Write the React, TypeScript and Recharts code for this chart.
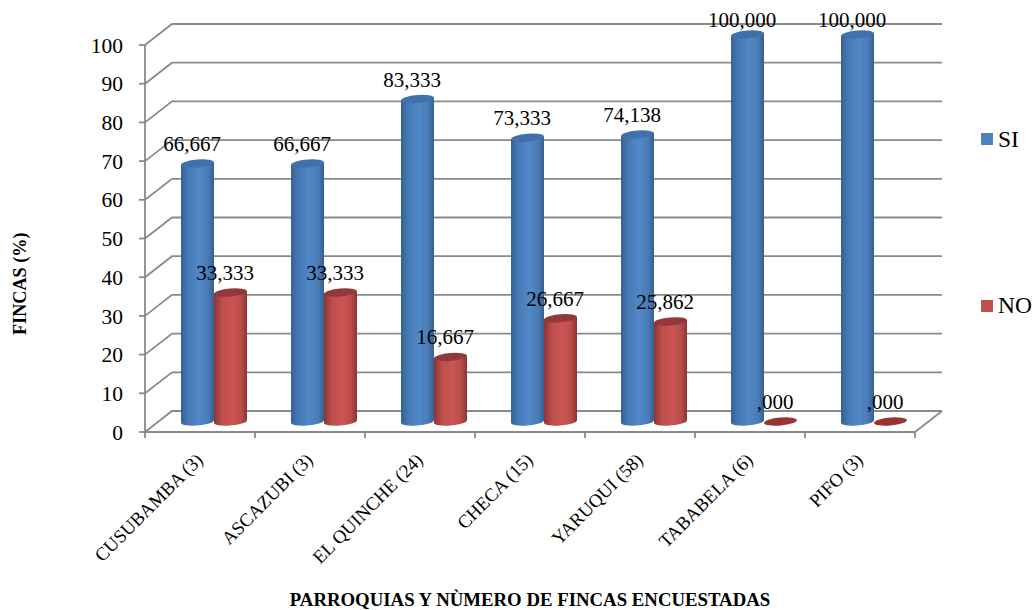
import React from "react";
import { BarChart, Bar, XAxis, YAxis, CartesianGrid, LabelList, Legend } from "recharts";

const parishes = [
  "CUSUBAMBA (3)",
  "ASCAZUBI (3)",
  "EL QUINCHE (24)",
  "CHECA (15)",
  "YARUQUI (58)",
  "TABABELA (6)",
  "PIFO (3)",
];
const siValues = [66.667, 66.667, 83.333, 73.333, 74.138, 100, 100];
const noValues = [33.333, 33.333, 16.667, 26.667, 25.862, 0, 0];
const percentTicks = [0, 10, 20, 30, 40, 50, 60, 70, 80, 90, 100];

const rows = parishes.map((parish, i) => ({ parish, SI: siValues[i], NO: noValues[i] }));

const FONT = '"Liberation Serif", "Times New Roman", serif';
const AXIS_GREY = "#8a8a8a";
const LEFT = 145;
const RIGHT = 118;
const TOP = 45;
const BOTTOM = 178;
const BAND = (1033 - LEFT - RIGHT) / parishes.length;

// Depth of the 3D box, and where the bars stand inside it.
const WALL_DX = 27;
const WALL_DY = -21;
const BAR_DX = 13.5;
const BAR_DY = -10.5;

const formatValue = (v: number) => {
  const s = v.toFixed(3).replace(".", ",");
  return s.startsWith("0,") ? s.slice(1) : s;
};

const Cylinder = (props: any) => {
  const { x, y, width, height, bodyFill, capFill, flatFill } = props;
  const left = x + BAR_DX;
  const right = left + width;
  const top = y + BAR_DY;
  const bottom = top + height;
  const cx = left + width / 2;
  const rx = width / 2;
  const ry = 4;
  const tilt = -5;
  if (height < 0.5) {
    return (
      <ellipse cx={cx} cy={top} rx={rx} ry={ry} fill={flatFill} transform={`rotate(${tilt} ${cx} ${top})`} />
    );
  }
  return (
    <g>
      <path
        d={`M${left},${top + 1.3} L${left},${bottom + 1.3} A${rx},${ry} ${tilt} 0 0 ${right},${bottom - 1.3} L${right},${top - 1.3} Z`}
        fill={bodyFill}
      />
      <ellipse cx={cx} cy={top} rx={rx} ry={ry} fill={capFill} transform={`rotate(${tilt} ${cx} ${top})`} />
    </g>
  );
};

const ValueLabel = (props: any) => {
  const { x, y, width, value } = props;
  const cy = Math.max(y + BAR_DY - 19.5, 20);
  return (
    <text
      x={x + BAR_DX + width / 2 - 5.5}
      y={cy}
      textAnchor="middle"
      dominantBaseline="central"
      fontFamily={FONT}
      fontSize={21}
      fill="#000"
    >
      {formatValue(Number(value))}
    </text>
  );
};

// Each gridline runs up the side wall and then along the back wall.
const BoxGridLine = (props: any) => {
  const { x1, x2, y1, index } = props;
  const backY = y1 + WALL_DY;
  const isFloor = Math.abs(y1 - (610 - BOTTOM)) < 0.5;
  return (
    <g key={`wall-${index}`} fill="none" stroke={AXIS_GREY} strokeWidth={1.8}>
      <path d={`M${x1},${y1} L${x1 + WALL_DX},${backY} L${x2 + WALL_DX},${backY}`} />
      {isFloor && <path d={`M${x2},${y1} L${x2 + WALL_DX},${backY}`} />}
    </g>
  );
};

const ParishTick = (props: any) => {
  const { x, y, payload, index } = props;
  const edge = y - 8;
  const endX = x + 4;
  const endY = y + 21;
  return (
    <g>
      <line x1={x + BAND / 2} x2={x + BAND / 2} y1={edge} y2={edge + 6} stroke={AXIS_GREY} strokeWidth={1.8} />
      {index === 0 && (
        <line x1={x - BAND / 2} x2={x - BAND / 2} y1={edge} y2={edge + 6} stroke={AXIS_GREY} strokeWidth={1.8} />
      )}
      <text
        x={endX}
        y={endY}
        textAnchor="end"
        fontFamily={FONT}
        fontSize={18.7}
        fill="#000"
        transform={`rotate(-45 ${endX} ${endY})`}
      >
        {payload.value}
      </text>
    </g>
  );
};

const legendRows = [139, 305.5];

const SeriesLegend = ({ payload }: any) => (
  <div style={{ position: "relative", width: 0, height: 0 }}>
    {(payload || []).map((entry: any, i: number) => (
      <div
        key={entry.value}
        style={{
          position: "absolute",
          left: 981,
          top: legendRows[i] - 12,
          width: 52,
          height: 24,
          display: "flex",
          alignItems: "center",
          fontFamily: FONT,
          fontSize: 23.5,
          color: "#000",
          whiteSpace: "nowrap",
        }}
      >
        <svg width={12} height={12} style={{ marginRight: 5, flex: "none" }}>
          <rect width={12} height={12} fill={entry.color} />
        </svg>
        {entry.value}
      </div>
    ))}
  </div>
);

export default function App() {
  return (
    <div style={{ position: "absolute", left: 0, top: 0, width: 1033, height: 610, background: "#fff" }}>
      <BarChart
        width={1033}
        height={610}
        data={rows}
        margin={{ top: TOP, right: RIGHT, bottom: 0, left: 0 }}
        barCategoryGap={22.5}
        barGap={0}
      >
        <defs>
          <linearGradient id="siBody" x1="0" y1="0" x2="1" y2="0">
            <stop offset="0" stopColor="#356296" />
            <stop offset="0.22" stopColor="#4679b4" />
            <stop offset="0.55" stopColor="#5188c8" />
            <stop offset="0.82" stopColor="#4a7cb6" />
            <stop offset="1" stopColor="#355f90" />
          </linearGradient>
          <linearGradient id="noBody" x1="0" y1="0" x2="1" y2="0">
            <stop offset="0" stopColor="#8c3533" />
            <stop offset="0.25" stopColor="#bd4f4c" />
            <stop offset="0.55" stopColor="#cb5552" />
            <stop offset="0.82" stopColor="#b94d4a" />
            <stop offset="1" stopColor="#8a3432" />
          </linearGradient>
        </defs>
        <CartesianGrid vertical={false} horizontal={BoxGridLine} syncWithTicks />
        <XAxis
          dataKey="parish"
          height={BOTTOM}
          interval={0}
          tick={ParishTick}
          tickLine={false}
          axisLine={{ stroke: AXIS_GREY, strokeWidth: 1.8 }}
          label={{
            value: "PARROQUIAS Y NÙMERO DE FINCAS ENCUESTADAS",
            position: "insideBottom",
            offset: 4,
            fontFamily: FONT,
            fontSize: 18.8,
            fontWeight: 700,
            fill: "#000",
          }}
        />
        <YAxis
          width={LEFT}
          domain={[0, 100]}
          ticks={percentTicks}
          interval={0}
          tickSize={6}
          tickMargin={16}
          tickLine={{ stroke: AXIS_GREY, strokeWidth: 1.8 }}
          axisLine={{ stroke: AXIS_GREY, strokeWidth: 1.8 }}
          tick={{ fontFamily: FONT, fontSize: 21.5, fill: "#000" }}
          label={{
            value: "FINCAS (%)",
            angle: -90,
            position: "insideLeft",
            offset: 20,
            dy: 96.5,
            fontFamily: FONT,
            fontSize: 18.2,
            fontWeight: 700,
            fill: "#000",
          }}
        />
        <Legend
          layout="vertical"
          align="center"
          verticalAlign="middle"
          itemSorter={null}
          wrapperStyle={{ position: "absolute", left: 0, top: 0, width: 0, height: 0 }}
          content={SeriesLegend}
        />
        <Bar
          dataKey="SI"
          fill="#4f81bd"
          isAnimationActive={false}
          shape={(p: any) => <Cylinder {...p} bodyFill="url(#siBody)" capFill="#3f71aa" flatFill="#3f71aa" />}
        >
          <LabelList dataKey="SI" content={ValueLabel} />
        </Bar>
        <Bar
          dataKey="NO"
          fill="#c0504d"
          isAnimationActive={false}
          shape={(p: any) => <Cylinder {...p} bodyFill="url(#noBody)" capFill="#93383a" flatFill="#9a3230" />}
        >
          <LabelList dataKey="NO" content={ValueLabel} />
        </Bar>
      </BarChart>
    </div>
  );
}
